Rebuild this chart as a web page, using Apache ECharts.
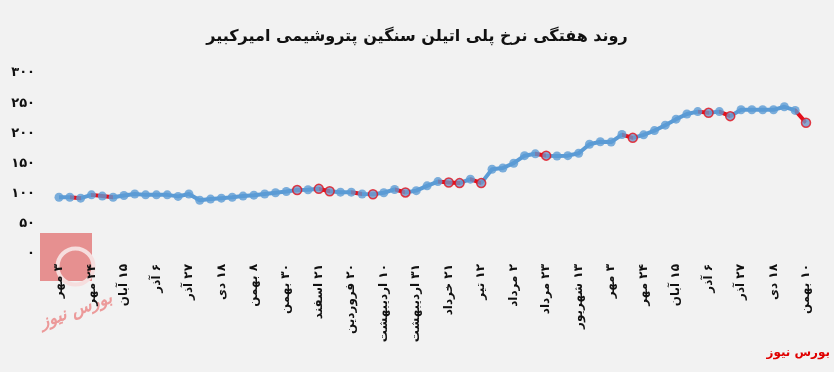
<!DOCTYPE html>
<html><head><meta charset="utf-8">
<script src="https://cdn.jsdelivr.net/npm/echarts@6/dist/echarts.min.js"></script>
<style>html,body{margin:0;padding:0;background:#f2f2f2}#chart{width:834px;height:372px}</style>
</head><body><div id="chart" dir="rtl"></div>
<script>
const chartTitle = 'روند هفتگی نرخ پلی اتیلن سنگین پتروشیمی امیرکبیر';
const sourceText = 'بورس نیوز';
// tick labels shown every third week
const xTickLabels = ['۳ مهر','۲۴ مهر','۱۵ آبان','۶ آذر','۲۷ آذر','۱۸ دی','۸ بهمن','۳۰ بهمن','۲۱ اسفند','۲۰ فروردین','۱۰ اردیبهشت','۳۱ اردیبهشت','۲۱ خرداد','۱۲ تیر','۲ مرداد','۲۳ مرداد','۱۳ شهریور','۳ مهر','۲۴ مهر','۱۵ آبان','۶ آذر','۲۷ آذر','۱۸ دی','۱۰ بهمن'];
// weekly price (70 weeks)
const prices = [94,94,92.5,98,96,94,97,99.5,98,98,98,95.5,99.5,89,91,92.5,94,96,97.5,99.5,
  101.5,103.5,106,106.5,108,104,102.5,102.5,99.5,99,101.5,107,102,105,113,120,118.5,117.5,124,117.5,
  140.5,142.5,150.5,163,166,163,162.5,163,167,182,186,185.5,198,192.5,197.5,204.5,213.5,223.5,232,236,
  234,236,228.5,239,239,239,239,244,238,217.5];
// weeks whose incoming segment is drawn red
const redSegmentEnds = [2,4,5,25,28,32,36,37,39,45,53,60,62,69];
// weeks whose marker has a red border
const flaggedPoints = [22,24,25,29,32,36,37,39,45,53,60,62,69];
const yMin = 0, yMax = 300, yStep = 50;

const faDigits = '۰۱۲۳۴۵۶۷۸۹';
const toFa = s => String(s).replace(/\d/g, d => faDigits[d]);
const categories = prices.map((v, i) => i % 3 === 0 ? (xTickLabels[i / 3] || '') : '');
const BLUE = '#5b9bd5', RED = '#e4101c';

const chart = echarts.init(document.getElementById('chart'));
chart.setOption({
  backgroundColor: '#f2f2f2',
  animation: false,
  title: {
    text: chartTitle, left: 'center', top: 24,
    textStyle: {fontFamily: 'DejaVu Sans', fontWeight: 'bold', fontSize: 16, color: '#111'}
  },
  grid: {left: 59, right: 28, top: 73, bottom: 118, containLabel: false},
  xAxis: {
    type: 'category', data: categories, boundaryGap: false,
    axisLine: {show: false}, axisTick: {show: false},
    axisLabel: {interval: 2, rotate: 90, margin: 10, color: '#111', fontFamily: 'DejaVu Sans', fontWeight: 'bold', fontSize: 12}
  },
  yAxis: {
    type: 'value', min: yMin, max: yMax, interval: yStep,
    axisLine: {show: false}, axisTick: {show: false}, splitLine: {show: false},
    axisLabel: {margin: 24, color: '#111', fontFamily: 'DejaVu Sans', fontWeight: 'bold', fontSize: 13, formatter: v => toFa(v)}
  },
  visualMap: {
    show: false, type: 'piecewise', dimension: 0, seriesIndex: 0,
    pieces: redSegmentEnds.map(e => ({gt: e - 1, lte: e, color: RED})),
    outOfRange: {color: BLUE}
  },
  graphic: [
    {type: 'rect', left: 40, top: 233, z: -1, shape: {width: 52, height: 48}, style: {fill: '#e47f7f', opacity: 0.85}},
    {type: 'circle', left: 55, top: 246, z: -1, shape: {r: 18}, style: {fill: 'none', stroke: '#f6dede', lineWidth: 4}},
    {type: 'text', left: 38, top: 290, z: -1, rotation: 0.35, style: {text: 'بورس نیوز', fill: '#ec9a9a', font: 'italic bold 17px DejaVu Sans'}},
    {type: 'text', right: 4, top: 347, style: {text: sourceText, fill: '#e00000', font: 'bold 12px DejaVu Sans'}}
  ],
  series: [
    {type: 'line', data: prices, showSymbol: false, lineStyle: {width: 4}, z: 2, silent: true},
    {type: 'scatter', symbol: 'circle', symbolSize: 9, z: 3, silent: true,
      data: prices.map((v, i) => flaggedPoints.includes(i)
        ? {value: v, itemStyle: {color: '#7194c6', borderColor: RED, borderWidth: 1.5}}
        : {value: v, itemStyle: {color: BLUE}})}
  ]
});
</script></body></html>
